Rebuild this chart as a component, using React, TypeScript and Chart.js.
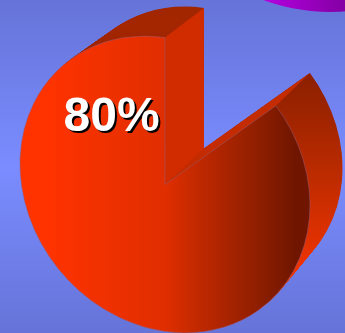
import React, { useEffect, useRef } from "react";
import { Chart, ArcElement, PieController } from "chart.js";

Chart.register(ArcElement, PieController);

const sliceLabels = ["Yes", "No"];
const sliceValues = [80, 20];
const discLabels = ["Other"];
const discValues = [100];

const W = 345;
const H = 333;

// The pie face is an affine view of a circle, so the drawn sweep is opened up a little.
const FACE = { cx: 165, cy: 184.5, a: 145, b: 20.7, d: 147 };
const BACK = { cx: 204, cy: 148.4, scale: 0.955 };
const START_DEG = 49.9;
const SWEEP_FULL = 387.6;
const LAYERS = 70;

type Mat = [number, number, number, number, number, number];

function faceMatrix(t: number, R: number, px: number, py: number): Mat {
  const s = (1 + (BACK.scale - 1) * t) / R;
  const cx = FACE.cx + (BACK.cx - FACE.cx) * t;
  const cy = FACE.cy + (BACK.cy - FACE.cy) * t;
  const a = FACE.a * s;
  const b = FACE.b * s;
  const d = FACE.d * s;
  return [a, b, 0, d, cx - a * px, cy - b * px - d * py];
}

// Gradient whose colour depends only on the screen row while m is the active transform.
function rowGradient(ctx: CanvasRenderingContext2D, m: Mat, y0: number, y1: number) {
  const [, b, , d, , f] = m;
  const lambda = (y1 - y0) / (b * b + d * d);
  const ay = (y0 - f) / d;
  const g = ctx.createLinearGradient(0, ay, lambda * b, ay + lambda * d);
  g.addColorStop(0, "#a02600");
  g.addColorStop(0.08, "#a42600");
  g.addColorStop(0.24, "#8e2000");
  g.addColorStop(0.5, "#b82a00");
  g.addColorStop(0.8, "#ee3300");
  g.addColorStop(1, "#f03300");
  return g;
}

const plainArc = {
  borderWidth: 0,
  borderColor: "transparent",
  offset: 0,
  spacing: 0,
  circular: true,
  borderRadius: 0,
  borderAlign: "center",
};

const pieDepth = {
  id: "pieDepth",
  beforeDatasetDraw(chart: any, args: any) {
    const ctx: CanvasRenderingContext2D = chart.ctx;
    const arc = args.meta.data[0];
    const R = arc.outerRadius;
    const m0 = faceMatrix(0, R, arc.x, arc.y);
    const m1 = faceMatrix(1, R, arc.x, arc.y);

    // Rim: the slice is stamped from the back plane to the front plane.
    for (let i = LAYERS; i > 0; i--) {
      const m = faceMatrix(i / LAYERS, R, arc.x, arc.y);
      ctx.save();
      ctx.transform(...m);
      const layer = new ArcElement({
        x: arc.x,
        y: arc.y,
        startAngle: arc.startAngle,
        endAngle: arc.endAngle,
        innerRadius: 0,
        outerRadius: R,
        circumference: arc.circumference,
        options: { ...plainArc, backgroundColor: rowGradient(ctx, m, 0, H) },
      } as any);
      layer.draw(ctx);
      ctx.restore();
    }

    // Flat cut faces between the two planes.
    const apply = (m: Mat, x: number, y: number) => [
      m[0] * x + m[2] * y + m[4],
      m[1] * x + m[3] * y + m[5],
    ];
    const cut = (angle: number, color: string) => {
      const ex = arc.x + R * Math.cos(angle);
      const ey = arc.y + R * Math.sin(angle);
      const quad = [apply(m0, arc.x, arc.y), apply(m1, arc.x, arc.y), apply(m1, ex, ey), apply(m0, ex, ey)];
      ctx.beginPath();
      quad.forEach(([x, y], i) => (i ? ctx.lineTo(x, y) : ctx.moveTo(x, y)));
      ctx.closePath();
      ctx.fillStyle = color;
      ctx.fill();
    };
    cut(arc.startAngle, "#c42c00");
    cut(arc.endAngle, "#d02c00");

    ctx.save();
    ctx.transform(...m0);
  },
  afterDatasetDraw(chart: any) {
    chart.ctx.restore();
  },
  afterDraw(chart: any) {
    const ctx: CanvasRenderingContext2D = chart.ctx;
    const text = `${sliceValues[0]}%`;
    ctx.save();
    ctx.font = 'bold 48px "Liberation Sans", Arial, sans-serif';
    ctx.textAlign = "left";
    ctx.textBaseline = "alphabetic";
    ctx.fillStyle = "#000000";
    ctx.fillText(text, 65.5, 132.5);
    ctx.fillStyle = "#ffffff";
    ctx.fillText(text, 63.5, 130.5);
    ctx.restore();
  },
};

// Horizontal shading of the front face, with stops given in screen columns.
function faceShade(ctx: CanvasRenderingContext2D, R: number, px: number) {
  const toChart = (sx: number) => px + ((sx - FACE.cx) * R) / FACE.a;
  const x0 = 45;
  const x1 = 312;
  const g = ctx.createLinearGradient(toChart(x0), 0, toChart(x1), 0);
  const stop = (sx: number, c: string) => g.addColorStop((sx - x0) / (x1 - x0), c);
  stop(45, "#ff3300");
  stop(165, "#e02e00");
  stop(200, "#bf2800");
  stop(250, "#952000");
  stop(295, "#701600");
  stop(312, "#701600");
  return g;
}

export default function App() {
  const pieRef = useRef<HTMLCanvasElement | null>(null);
  const discRef = useRef<HTMLCanvasElement | null>(null);

  useEffect(() => {
    const pie = new Chart(pieRef.current!, {
      type: "pie",
      data: {
        labels: sliceLabels,
        datasets: [
          {
            data: sliceValues,
            clip: false,
            backgroundColor: (c: any) =>
              c.dataIndex === 0
                ? faceShade(c.chart.ctx, Math.min(W, H) / 2, W / 2)
                : "transparent",
            borderColor: (c: any) =>
              c.dataIndex === 0 ? "rgba(150,90,120,0.55)" : "transparent",
            borderWidth: 1,
          } as any,
        ],
      },
      options: {
        animation: false,
        responsive: false,
        rotation: START_DEG,
        circumference: SWEEP_FULL,
        layout: { padding: 0 },
        plugins: { legend: { display: false }, tooltip: { enabled: false } },
      },
      plugins: [pieDepth],
    });

    const disc = new Chart(discRef.current!, {
      type: "pie",
      data: {
        labels: discLabels,
        datasets: [
          {
            data: discValues,
            borderWidth: 0,
            backgroundColor: (c: any) => {
              const g = c.chart.ctx.createLinearGradient(126, 0, 208, 0);
              g.addColorStop(0, "#b400e0");
              g.addColorStop(1, "#8400a4");
              return g;
            },
          },
        ],
      },
      options: {
        animation: false,
        responsive: false,
        layout: { padding: 0 },
        plugins: { legend: { display: false }, tooltip: { enabled: false } },
      },
    });

    return () => {
      pie.destroy();
      disc.destroy();
    };
  }, []);

  return (
    <div
      style={{
        position: "absolute",
        left: 0,
        top: 0,
        width: W,
        height: H,
        overflow: "hidden",
        background: "linear-gradient(#6674d8 0%, #7a8cff 50%, #6674d8 100%)",
      }}
    >
      <canvas ref={discRef} width={386} height={386} style={{ position: "absolute", left: 137, top: -374 }} />
      <canvas ref={pieRef} width={W} height={H} style={{ position: "absolute", left: 0, top: 0 }} />
    </div>
  );
}
